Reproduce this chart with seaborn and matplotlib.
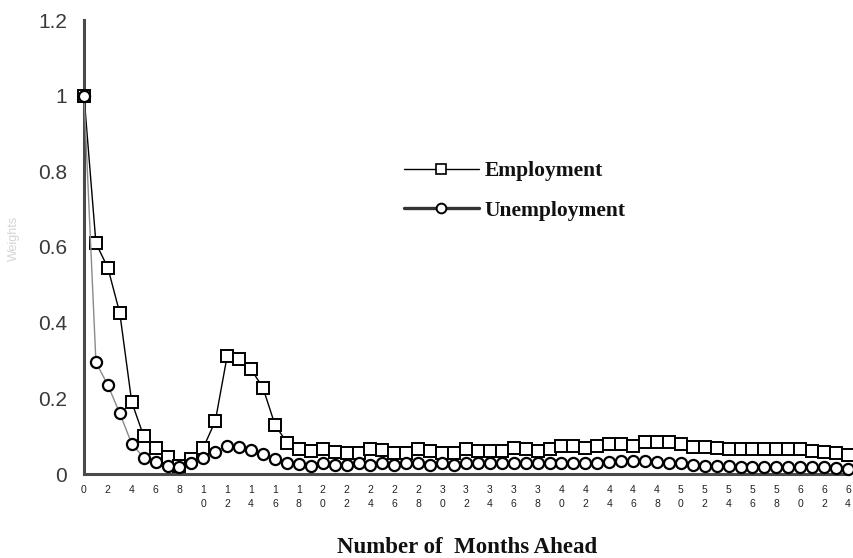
import matplotlib
matplotlib.use("Agg")
import matplotlib.pyplot as plt
from matplotlib.lines import Line2D
import seaborn as sns
import pandas as pd

months = list(range(0, 65))

employment = [
    1.0, 0.61, 0.545, 0.425, 0.19, 0.10, 0.068, 0.045, 0.022, 0.04,
    0.07, 0.14, 0.313, 0.305, 0.277, 0.227, 0.13, 0.083, 0.065, 0.06,
    0.065, 0.058, 0.055, 0.055, 0.066, 0.064, 0.055, 0.055, 0.065, 0.06,
    0.055, 0.055, 0.065, 0.06, 0.06, 0.06, 0.07, 0.065, 0.06, 0.065,
    0.075, 0.075, 0.068, 0.075, 0.08, 0.08, 0.075, 0.085, 0.085, 0.085,
    0.08, 0.072, 0.072, 0.068, 0.065, 0.065, 0.065, 0.065, 0.065, 0.065,
    0.065, 0.06, 0.058, 0.055, 0.05,
]

unemployment = [
    1.0, 0.295, 0.235, 0.16, 0.08, 0.043, 0.033, 0.022, 0.018, 0.028,
    0.042, 0.058, 0.075, 0.072, 0.063, 0.053, 0.04, 0.028, 0.026, 0.022,
    0.03, 0.025, 0.025, 0.03, 0.025, 0.03, 0.025, 0.028, 0.03, 0.025,
    0.03, 0.025, 0.03, 0.028, 0.03, 0.028, 0.03, 0.03, 0.028, 0.03,
    0.03, 0.03, 0.03, 0.03, 0.033, 0.035, 0.035, 0.035, 0.033, 0.03,
    0.028, 0.025, 0.022, 0.02, 0.02, 0.018, 0.018, 0.018, 0.018, 0.018,
    0.018, 0.018, 0.018, 0.017, 0.013,
]

x_ticks = list(range(0, 65, 2))
x_tick_labels = ["\n".join(str(v)) for v in x_ticks]
y_ticks = [0, 0.2, 0.4, 0.6, 0.8, 1.0, 1.2]
y_tick_labels = ["0", "0.2", "0.4", "0.6", "0.8", "1", "1.2"]

df = pd.DataFrame({"month": months, "Employment": employment,
                   "Unemployment": unemployment})

sns.set_style("white")
plt.rcParams["font.family"] = ["Liberation Sans", "DejaVu Sans"]

fig = plt.figure(figsize=(8.54, 5.58), dpi=100)
ax = fig.add_axes([84 / 854, 1 - 474 / 558, 764 / 854, 454 / 558])

axis_grey = "#4a4a4a"

sns.lineplot(data=df, x="month", y="Employment", ax=ax, color="black",
             linewidth=1.0, marker="s", markersize=8.5,
             markerfacecolor="white", markeredgecolor="black",
             markeredgewidth=1.4, clip_on=False, zorder=3)
sns.lineplot(data=df, x="month", y="Unemployment", ax=ax, color="#8a8a8a",
             linewidth=1.0, marker="o", markersize=8,
             markerfacecolor="white", markeredgecolor="black",
             markeredgewidth=1.6, clip_on=False, zorder=4)

ax.set_xlim(0, 64)
ax.set_ylim(0, 1.2)

ax.set_xticks(x_ticks)
ax.set_xticklabels(x_tick_labels, fontsize=7.5, linespacing=1.45,
                   color="#222222")
ax.set_yticks(y_ticks)
ax.set_yticklabels(y_tick_labels, fontsize=15, color="#3a3a3a")

ax.tick_params(axis="x", length=0, pad=8)
ax.tick_params(axis="y", direction="out", length=6, width=2,
               color=axis_grey, pad=6)

for side in ("top", "right"):
    ax.spines[side].set_visible(False)
for side in ("left", "bottom"):
    ax.spines[side].set_linewidth(2.2)
    ax.spines[side].set_color(axis_grey)

ax.set_xlabel("Number of  Months Ahead", fontsize=16.5, fontweight="bold",
              family=["Liberation Serif", "DejaVu Serif"], color="#111111")
ax.xaxis.set_label_coords(0.501, -0.138)
ax.set_ylabel("Weights", fontsize=9, color="#d4d4d4")
ax.yaxis.set_label_coords(-0.084, 0.52)

handles = [
    Line2D([], [], color="black", linewidth=1.0, marker="s", markersize=7,
           markerfacecolor="white", markeredgecolor="black",
           markeredgewidth=1.2),
    Line2D([], [], color="#333333", linewidth=2.4, marker="o", markersize=7,
           markerfacecolor="white", markeredgecolor="black",
           markeredgewidth=1.4),
]
leg = ax.legend(handles, ["Employment", "Unemployment"], loc="center left",
                bbox_to_anchor=(393 / 854, 1 - 191 / 558),
                bbox_transform=fig.transFigure, frameon=False, borderpad=0,
                handlelength=3.5, handletextpad=0.25, labelspacing=0.9,
                prop={"family": ["Liberation Serif", "DejaVu Serif"],
                      "weight": "bold", "size": 15.5})
for t in leg.get_texts():
    t.set_color("#111111")

fig.savefig("out.png", dpi=100)
